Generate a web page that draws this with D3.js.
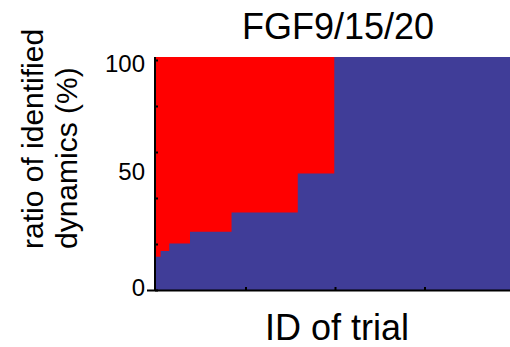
<!DOCTYPE html>
<html>
<head>
<meta charset="utf-8">
<script src="https://cdn.jsdelivr.net/npm/d3@7"></script>
<style>
  html, body { margin: 0; padding: 0; background: #fff; }
  svg { display: block; }
  text { font-family: "Liberation Sans", Arial, Helvetica, sans-serif; fill: #000; }
</style>
</head>
<body>
<svg id="chart" width="510" height="347"></svg>
<script>
// Trials sorted by the share of identified dynamics.
// Each step: last trial ID of the run and the ratio (%) for that run.
const stepEnds = [13, 37, 95, 211, 396, 498, 1000];
const stepRatios = [14.3, 16.7, 20, 25, 33.3, 50, 100];
const trialCount = 1000;
const xTickValues = [250, 500, 750];
const yTickValues = [0, 20, 40, 60, 80, 100];
const yLabelValues = [0, 50, 100];
const titleText = "FGF9/15/20";
const xLabelText = "ID of trial";
const yLabelLines = ["ratio of identified", "dynamics (%)"];

const blue = "#403d98";
const red = "#ff0000";

const svg = d3.select("#chart");
const plotLeft = 156, plotRight = 514, plotTop = 57, plotBottom = 290;

const x = d3.scaleLinear().domain([0, trialCount]).range([plotLeft, plotRight]);
const y = d3.scaleLinear().domain([0, 100]).range([plotBottom, plotTop]);
// tick marks sit on a slightly shorter scale than the fill
const yTick = d3.scaleLinear().domain([0, 100]).range([plotBottom, 60]);

// step points: each run starts where the previous one ended
const pts = stepEnds.map((e, i) => ({ x: i === 0 ? 0 : stepEnds[i - 1], v: stepRatios[i] }));
pts.push({ x: trialCount, v: stepRatios[stepRatios.length - 1] });

// red: remaining share up to 100 %
svg.append("rect")
  .attr("x", x(0)).attr("y", y(100))
  .attr("width", x(trialCount) - x(0))
  .attr("height", y(0) - y(100))
  .attr("fill", red);

// blue: identified share
const area = d3.area()
  .curve(d3.curveStepAfter)
  .x(d => x(d.x))
  .y0(y(0))
  .y1(d => y(d.v));
svg.append("path").datum(pts).attr("d", area).attr("fill", blue);

// axes
const yAxis = d3.axisLeft(yTick).tickValues(yTickValues).tickSize(-3).tickFormat("");
const gy = svg.append("g").attr("transform", `translate(${plotLeft - 1},0)`).call(yAxis);
gy.select(".domain").remove();
gy.selectAll(".tick line").attr("stroke", "#000").attr("stroke-width", 2);

const xAxis = d3.axisBottom(x).tickValues(xTickValues).tickSize(-3).tickFormat("");
const gx = svg.append("g").attr("transform", `translate(0,${plotBottom})`).call(xAxis);
gx.select(".domain").remove();
gx.selectAll(".tick line").attr("stroke", "#000").attr("stroke-width", 2);

svg.append("line")
  .attr("x1", plotLeft - 1).attr("x2", plotLeft - 1)
  .attr("y1", plotTop).attr("y2", plotBottom + 1)
  .attr("stroke", "#000").attr("stroke-width", 2);
svg.append("line")
  .attr("x1", plotLeft - 9).attr("x2", 510)
  .attr("y1", plotBottom + 0.5).attr("y2", plotBottom + 0.5)
  .attr("stroke", "#000").attr("stroke-width", 2);

// y tick labels
svg.append("g").selectAll("text")
  .data(yLabelValues)
  .join("text")
  .attr("x", plotLeft - 11)
  .attr("y", d => Math.max(y(d), plotTop + 9) - 2)
  .attr("dy", "0.35em")
  .attr("text-anchor", "end")
  .attr("font-size", 24)
  .text(d => d);

// title
svg.append("text")
  .attr("x", 338).attr("y", 39)
  .attr("text-anchor", "middle")
  .attr("font-size", 36)
  .text(titleText);

// x label
svg.append("text")
  .attr("x", 337).attr("y", 340)
  .attr("text-anchor", "middle")
  .attr("font-size", 36)
  .text(xLabelText);

// y label (two lines, rotated)
const yl = svg.append("text")
  .attr("transform", "translate(43,249) rotate(-90)")
  .attr("text-anchor", "start")
  .attr("font-size", 30);
yLabelLines.forEach((t, i) => {
  yl.append("tspan").attr("x", 0).attr("y", i * 34).text(t);
});
</script>
</body>
</html>
